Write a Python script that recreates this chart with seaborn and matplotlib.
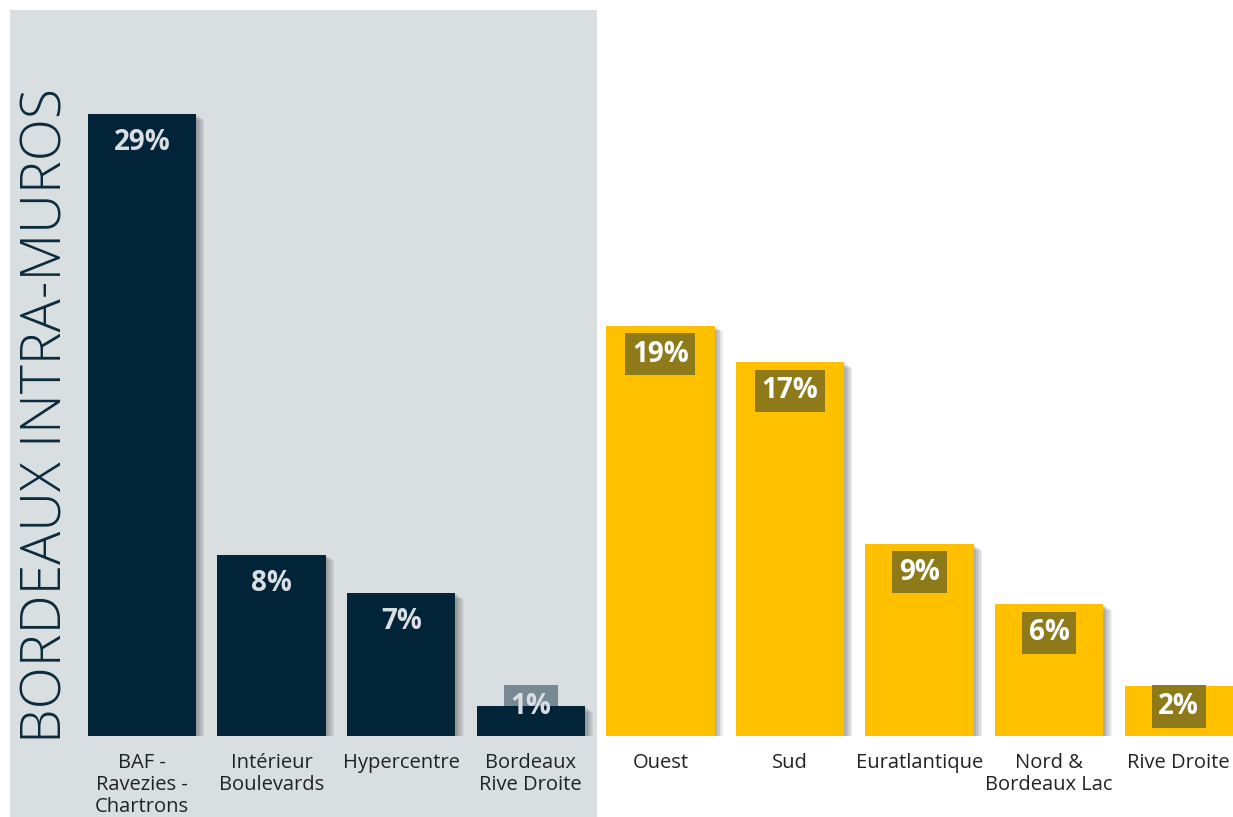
import matplotlib
matplotlib.use("Agg")
import matplotlib.pyplot as plt
import matplotlib.patheffects as pe
from matplotlib.patches import Rectangle
import seaborn as sns
import pandas as pd

categories = ["BAF -\nRavezies -\nChartrons", "Intérieur\nBoulevards", "Hypercentre",
              "Bordeaux\nRive Droite", "Ouest", "Sud", "Euratlantique",
              "Nord &\nBordeaux Lac", "Rive Droite"]
values = [28.8, 8.4, 6.6, 1.4, 19.0, 17.3, 8.9, 6.1, 2.3]
groups = ["intra"] * 4 + ["extra"] * 5
title = "BORDEAUX INTRA-MUROS"

DARK = "#012438"
YELLOW = "#FFC000"
OLIVE = "#8E7A18"
PANEL = "#D9DEE1"

sns.set_theme(style="white")
plt.rcParams["font.family"] = ["Open Sans", "DejaVu Sans"]

W, H = 1233, 817
fig = plt.figure(figsize=(W / 100, H / 100), dpi=100)
fig.patch.set_facecolor("white")
fig.patches.append(Rectangle((10 / W, 0), 587 / W, 807 / H, transform=fig.transFigure,
                             facecolor=PANEL, edgecolor="none", zorder=-5))

ppu = 21.6
base_px = 81
ax = fig.add_axes([0, base_px / H, 1, (H - base_px - 10) / H])
ax.set_facecolor("none")
ax.set_zorder(2)

df = pd.DataFrame({"cat": categories, "val": values, "grp": groups})
sns.barplot(data=df, x="cat", y="val", hue="grp", palette={"intra": DARK, "extra": YELLOW},
            dodge=False, width=0.835, legend=False, ax=ax, saturation=1, zorder=3,
            linewidth=0, edgecolor="none")

shadow = [pe.SimplePatchShadow(offset=(k, -k * 0.7), shadow_rgbFace="#404040", alpha=0.09)
          for k in (1, 2, 3, 4, 5, 6)]
for p in ax.patches:
    p.set_linewidth(0)
    p.set_path_effects(shadow + [pe.Normal()])

step = 129.6
ax.set_xlim(-142 / step, (W - 142) / step)
ax.set_ylim(0, (H - base_px - 10) / ppu)

for i, (v, g) in enumerate(zip(values, groups)):
    center = max(v * ppu - 28.5, 29.5) / ppu
    if g == "intra":
        bbox = dict(boxstyle="square,pad=0.24", fc=DARK, ec="none", alpha=0.45)
        tc = "#D9DEE2"
    else:
        bbox = dict(boxstyle="square,pad=0.24", fc=OLIVE, ec="none")
        tc = "white"
    ax.text(i, center, f"{round(v)}%", ha="center", va="center", fontsize=20,
            fontweight="bold", color=tc, bbox=bbox, zorder=5)

ax.set_xticks(range(len(categories)))
ax.set_xticklabels(categories, fontsize=14.5, color="#222222", linespacing=1.15)
ax.tick_params(axis="x", length=0, pad=12)
ax.set_yticks([])
ax.set_xlabel("")
ax.set_ylabel("")
for s in ax.spines.values():
    s.set_visible(False)

fig.text(47 / W, 1 - 416 / H, title, rotation=90, ha="center", va="center",
         fontsize=39.7, fontweight="light", color="#0B2A3C")

fig.savefig("out.png", dpi=100)
